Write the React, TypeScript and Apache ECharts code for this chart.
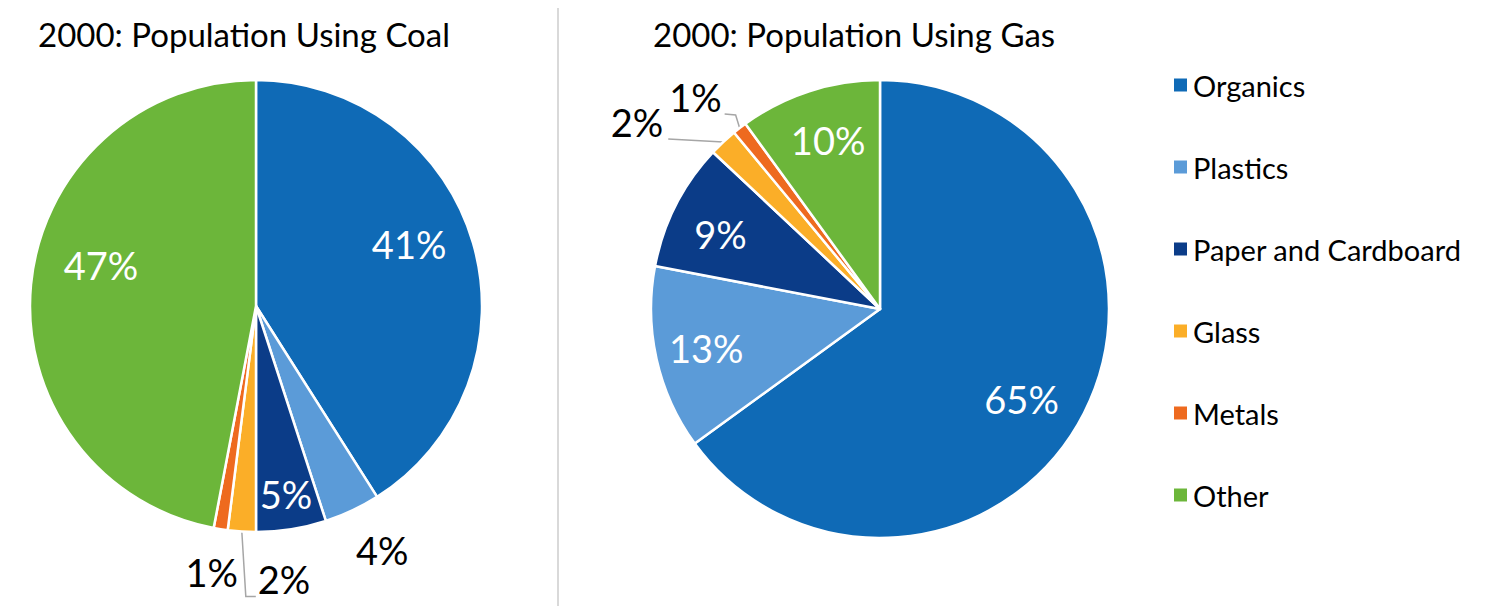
import React, { useEffect, useRef } from "react";
import * as echarts from "echarts";

const categories = ["Organics", "Plastics", "Paper and Cardboard", "Glass", "Metals", "Other"];
const coalValues = [41, 4, 5, 2, 1, 47];
const gasValues = [65, 13, 9, 2, 1, 10];
const colors = ["#0F6AB6", "#5B9BD8", "#0B3C88", "#FBAE28", "#EE6A1F", "#6CB63A"];
const titles = ["2000: Population Using Coal", "2000: Population Using Gas"];
const FONT = "Lato";

// Placement of the outside labels, relative to the slice's outer-edge midpoint.
type Place = { lx: number; ly: number; align: string; vAlign: string; line?: number[][] };
const coalOutside: Record<number, Place> = {
  1: { lx: 30, ly: 40, align: "center", vAlign: "middle" },
  3: { lx: 16, ly: 66, align: "left", vAlign: "bottom", line: [[0, 0], [4, 65], [14, 65]] },
  4: { lx: -9, ly: 43, align: "center", vAlign: "middle" },
};
const gasOutside: Record<number, Place> = {
  3: { lx: -60, ly: -1, align: "right", vAlign: "bottom", line: [[0, 0], [-55, -3]] },
  4: { lx: -18, ly: -12, align: "right", vAlign: "bottom", line: [[0, 0], [-4, -13], [-15, -14]] },
};
// Small nudges of the inside labels (best-fit placement)
const coalInsideNudge: Record<number, number[]> = { 0: [-6, -16], 2: [4, 24], 5: [10, -25] };
const gasInsideNudge: Record<number, number[]> = { 0: [-8, 14], 1: [-10, 2], 2: [-10, 1], 5: [0, -9] };

function edgePoint(values: number[], idx: number, center: number[], r: number) {
  const total = values.reduce((a, b) => a + b, 0);
  let before = 0;
  for (let i = 0; i < idx; i++) before += values[i];
  const mid = ((before + values[idx] / 2) / total) * Math.PI * 2;
  return [center[0] + Math.sin(mid) * r, center[1] - Math.cos(mid) * r];
}

function buildSeries(
  values: number[],
  center: number[],
  radius: number,
  outside: Record<number, Place>,
  nudge: Record<number, number[]>
) {
  const base = values.map((v, i) => ({
    name: categories[i],
    value: v,
    itemStyle: { color: colors[i] },
    label: { show: !!outside[i] },
    labelLine: { show: !!(outside[i] && outside[i].line) },
  }));
  const overlay = values.map((v, i) => ({
    name: categories[i],
    value: v,
    label: { show: !outside[i] },
  }));
  return [
    {
      type: "pie",
      center,
      radius,
      startAngle: 90,
      clockwise: true,
      avoidLabelOverlap: false,
      itemStyle: { borderColor: "#fff", borderWidth: 2.5 },
      label: {
        position: "outside",
        formatter: "{c}%",
        color: "#000",
        fontSize: 38,
        fontFamily: FONT,
      },
      labelLine: { length: 12, length2: 10, lineStyle: { color: "#A6A6A6", width: 1.5 } },
      labelLayout: (params: any) => {
        const p = outside[params.dataIndex];
        if (!p) return {};
        const e = edgePoint(values, params.dataIndex, center, radius);
        const res: any = {
          x: e[0] + p.lx,
          y: e[1] + p.ly,
          align: p.align,
          verticalAlign: p.vAlign,
        };
        if (p.line) res.labelLinePoints = p.line.map((q) => [e[0] + q[0], e[1] + q[1]]);
        return res;
      },
      data: base,
      silent: true,
    },
    {
      type: "pie",
      center,
      radius: [radius * 0.44, radius],
      startAngle: 90,
      clockwise: true,
      itemStyle: { color: "rgba(0,0,0,0)" },
      label: {
        position: "inside",
        formatter: "{c}%",
        color: "#fff",
        fontSize: 38,
        fontFamily: FONT,
      },
      labelLine: { show: false },
      labelLayout: (params: any) => {
        const n = nudge[params.dataIndex];
        return n ? { dx: n[0], dy: n[1] } : {};
      },
      data: overlay,
      silent: true,
      legendHoverLink: false,
    },
  ];
}

export default function App() {
  const ref = useRef<HTMLDivElement>(null);
  useEffect(() => {
    if (!ref.current) return;
    const chart = echarts.init(ref.current, undefined, { renderer: "svg" });
    chart.setOption({
      animation: false,
      backgroundColor: "#fff",
      color: colors,
      title: [
        { text: titles[0], left: 33, top: 12, textStyle: { fontSize: 33, fontWeight: "normal", fontFamily: FONT, color: "#000" } },
        { text: titles[1], left: 648, top: 12, textStyle: { fontSize: 33, fontWeight: "normal", fontFamily: FONT, color: "#000" } },
      ],
      legend: {
        orient: "vertical",
        left: 1167,
        top: 65,
        icon: "rect",
        itemWidth: 15,
        itemHeight: 15,
        itemGap: 52,
        data: categories,
        textStyle: { fontSize: 29, fontFamily: FONT, color: "#000", lineHeight: 30 },
        selectedMode: false,
      },
      graphic: [
        { type: "line", shape: { x1: 558, y1: 8, x2: 558, y2: 606 }, style: { stroke: "#D9D9D9", lineWidth: 2 } },
      ],
      series: [
        ...buildSeries(coalValues, [256, 306], 226, coalOutside, coalInsideNudge),
        ...buildSeries(gasValues, [880, 309], 229, gasOutside, gasInsideNudge),
      ],
    });
    return () => chart.dispose();
  }, []);
  return <div ref={ref} style={{ position: "fixed", left: 0, top: 0, width: 1495, height: 606 }} />;
}
